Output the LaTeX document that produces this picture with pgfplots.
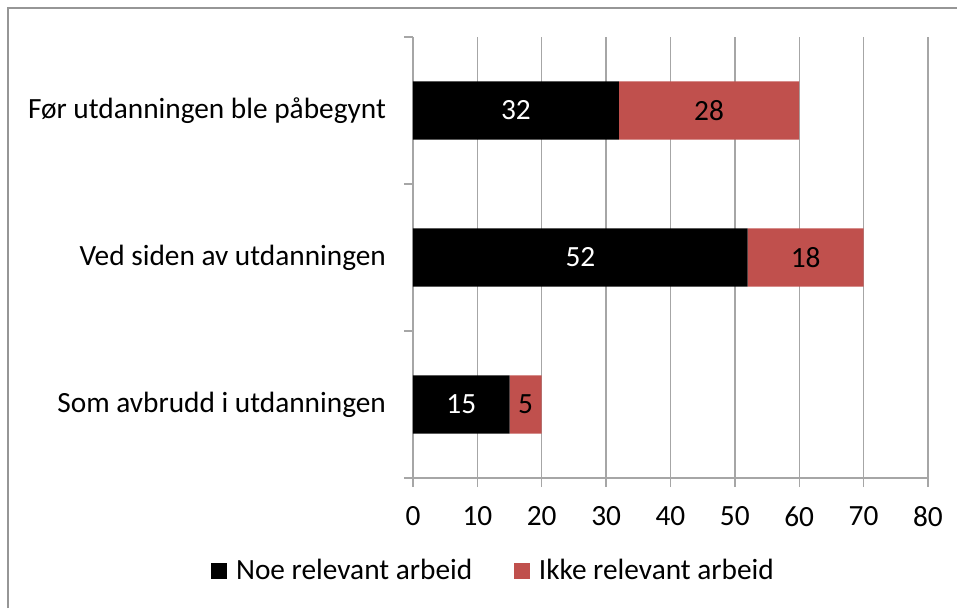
\documentclass[border=0pt]{standalone}
\usepackage{pgfplots}
\pgfplotsset{compat=1.18}
\usepackage{fontspec}
\setmainfont{Carlito}
\definecolor{barRed}{RGB}{192,80,77}
\definecolor{gridGray}{RGB}{166,166,166}
\definecolor{frameGray}{RGB}{150,150,150}
\newcommand\chartfont{\fontsize{22pt}{26pt}\selectfont}

\begin{document}
\begin{tikzpicture}
\useasboundingbox (-309.75pt,-97.5pt) rectangle (408pt,358.5pt);
\begin{axis}[
  scale only axis,
  width=386.25pt, height=330.75pt,
  xbar stacked, bar width=0.395,
  xmin=0, xmax=80, ymin=-0.5, ymax=2.5,
  xtick={0,10,...,80},
  ytick={0,1,2},
  yticklabels={Som avbrudd i utdanningen, Ved siden av utdanningen, Før utdanningen ble påbegynt},
  axis x line*=bottom, axis y line*=left,
  axis line style={gridGray, line width=1pt},
  xmajorgrids, grid style={gridGray, line width=1pt},
  tick align=outside, major tick length=6.75pt,
  tick style={gridGray, line width=1pt},
  y tick style={draw=none},
  extra y ticks={-0.5,0.5,1.5,2.5}, extra y tick labels={},
  extra y tick style={y tick style={draw=gridGray}},
  /pgf/number format/assume math mode=true,
  tick label style={font=\chartfont, text=black},
  y tick label style={xshift=-10pt},
  x tick label style={yshift=-11pt},
  % pgfplots 1.18 centres the labels of stacked bars by itself
  nodes near coords, point meta=explicit symbolic,
  every node near coord/.append style={font=\chartfont},
  legend style={at={(-0.401,-0.21)}, anchor=west, draw=none, fill=none,
    font=\chartfont, legend columns=2,
    /tikz/every odd column/.append style={column sep=5pt},
    /tikz/every even column/.append style={column sep=29pt}},
  legend cell align=left,
]
\addplot[fill=black, draw=none, every node near coord/.append style={text=white},
  legend image code/.code={\fill[black] (0pt,-6pt) rectangle (12pt,6pt);}]
  coordinates {(15,0)[15] (52,1)[52] (32,2)[32]};
\addlegendentry{Noe relevant arbeid}
\addplot[fill=barRed, draw=none, every node near coord/.append style={text=black},
  legend image code/.code={\fill[barRed] (0pt,-6pt) rectangle (12pt,6pt);}]
  coordinates {(5,0)[5] (18,1)[18] (28,2)[28]};
\addlegendentry{Ikke relevant arbeid}
\end{axis}
\draw[frameGray, line width=1.5pt] (-303.75pt,-97.5pt) -- (-303.75pt,352.5pt) -- (408pt,352.5pt);
\end{tikzpicture}
\end{document}
